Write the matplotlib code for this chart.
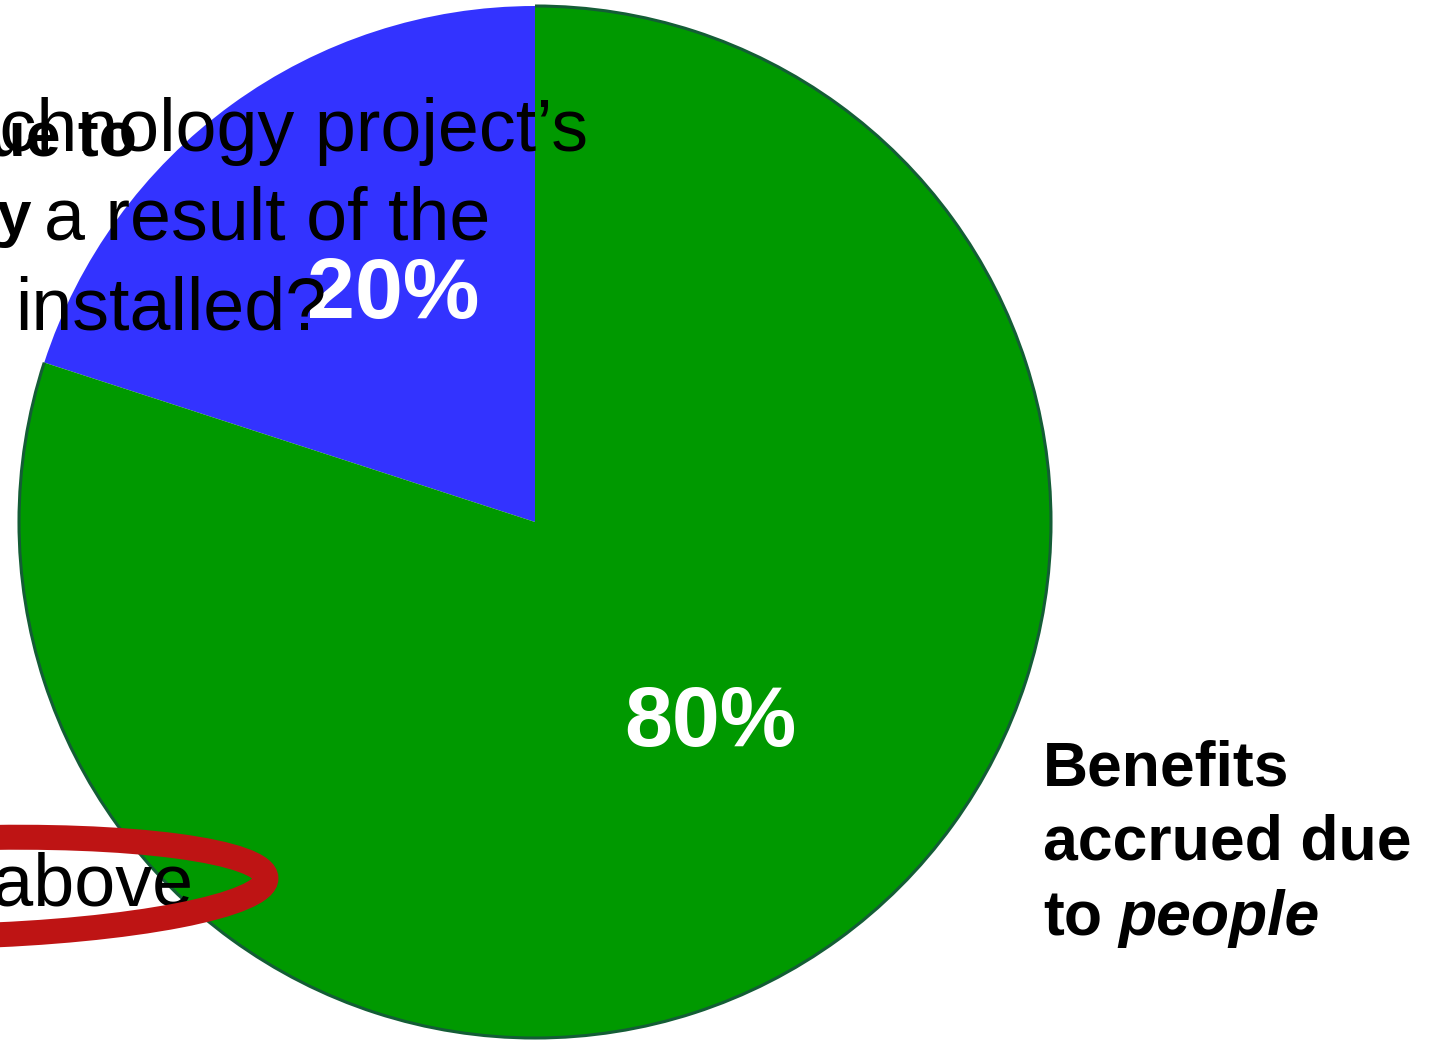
import matplotlib
matplotlib.use("Agg")
import matplotlib.pyplot as plt
from matplotlib.patches import Ellipse, Arc

plt.rcParams["font.family"] = ["Liberation Sans", "DejaVu Sans"]

# data
shares = [20, 80]
slice_colors = ["#3333FF", "#009900"]
right_label = ["Benefits", "accrued due", "to"]
right_label_italic = "people"
left_label = ["accrued due to", "technology"]
question = ["technology project\u2019s", "a result of the", "installed?"]
option_text = "None of the above"

W, H = 1430, 1040


def py(y):
    """pixel row (from top) -> data y (from bottom)"""
    return H - y


fig = plt.figure(figsize=(14.3, 10.4), dpi=100)
ax = fig.add_axes([0, 0, 1, 1])

cx, cy, r = 535, py(522), 516
wedges, _, autotexts = ax.pie(
    shares,
    colors=slice_colors,
    startangle=90,
    counterclock=True,
    center=(cx, cy),
    radius=r,
    autopct="%d%%",
    pctdistance=0.52,
    wedgeprops=dict(linewidth=0),
    textprops=dict(color="white", fontsize=62, fontweight="bold"),
)

# darker rim round the green slice
start = 90 + 360 * shares[0] / sum(shares)
ax.add_patch(Arc((cx, cy), 2 * r, 2 * r, theta1=start, theta2=450,
                 color="#145d36", lw=2.2, zorder=3))

# percentage labels nudged to where the slide has them
for t, (x, y) in zip(autotexts, [(393, 318), (710, 746)]):
    t.set_position((x, py(y)))
    t.set_va("baseline")

# question text block (cut off by the slide edge)
ax.text(588, py(151), question[0], ha="right", va="baseline", fontsize=53)
ax.text(490, py(240), question[1], ha="right", va="baseline", fontsize=53)
ax.text(15, py(330), question[2], ha="left", va="baseline", fontsize=53)

# bold label for the blue slice, mostly off-slide
ax.text(137, py(156), left_label[0], ha="right", va="baseline",
        fontsize=45, fontweight="bold")
ax.text(32, py(235), left_label[1], ha="right", va="baseline",
        fontsize=45, fontweight="bold")

# right label
for i, line in enumerate(right_label):
    t = ax.text(1043, py(785 + 75 * i), line, ha="left", va="baseline",
                fontsize=45, fontweight="bold")
ax.annotate(right_label_italic, xy=(1, 0), xycoords=t, xytext=(12, 0),
            textcoords="offset points", ha="left", va="bottom",
            fontsize=45, fontweight="bold", fontstyle="italic")

# bottom option with the red ring drawn over it
ax.text(193, py(905), option_text, ha="right", va="baseline", fontsize=53)
ax.add_patch(Ellipse((-34, py(887)), 600, 98, angle=1.7, fill=False,
                     edgecolor="#BE1414", lw=18, zorder=5))

ax.set_xlim(0, W)
ax.set_ylim(0, H)
ax.set_aspect("auto")
ax.axis("off")

fig.savefig("out.png", dpi=100)
